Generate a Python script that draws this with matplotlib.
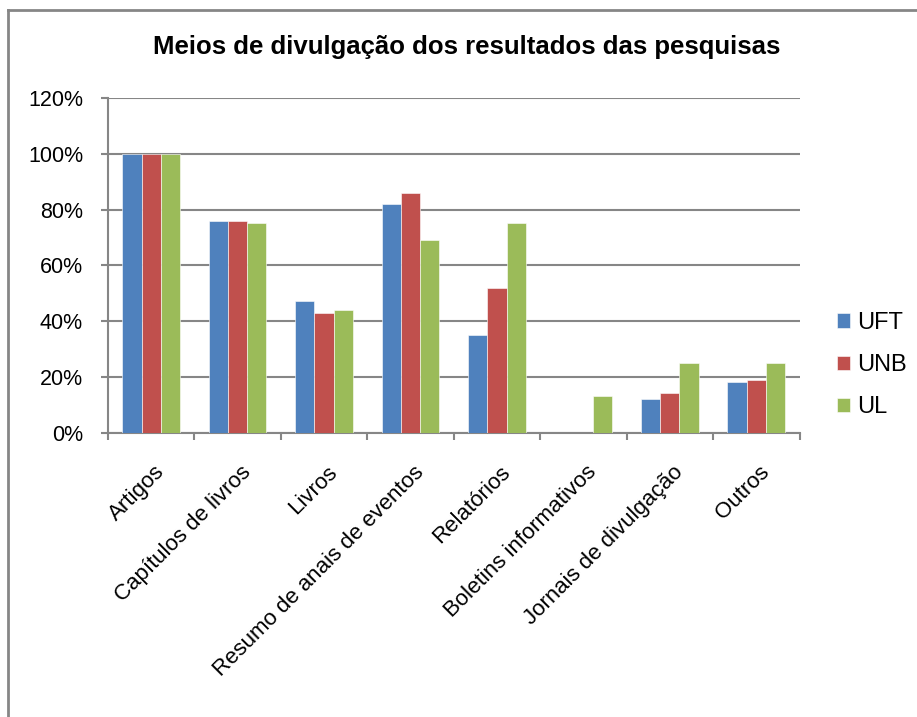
import matplotlib
matplotlib.use("Agg")
import matplotlib.pyplot as plt
import matplotlib.transforms as mtransforms
from matplotlib.lines import Line2D
import numpy as np

# dados (%)
categorias = ["Artigos", "Capítulos de livros", "Livros", "Resumo de anais de eventos",
              "Relatórios", "Boletins informativos", "Jornais de divulgação", "Outros"]
uft = [100, 76, 47, 82, 35, 0, 12, 18]
unb = [100, 76, 43, 86, 52, 0, 14, 19]
ul = [100, 75, 44, 69, 75, 13, 25, 25]
series = ["UFT", "UNB", "UL"]
cores = ["#4F81BD", "#C0504D", "#9BBB59"]
yticks = [0, 20, 40, 60, 80, 100, 120]

plt.rcParams['font.family'] = ['Liberation Sans', 'DejaVu Sans']
grey = "#868686"

fig = plt.figure(figsize=(9.17, 7.17), dpi=100)
W, H = 917, 717
ax = fig.add_axes([108 / W, 1 - 432.5 / H, (799.5 - 108) / W, (432.5 - 98) / H])

# moldura do gráfico (canto superior esquerdo)
fig.add_artist(Line2D([8 / W, 8 / W], [0, 1 - 10 / H], color=grey, lw=2, transform=fig.transFigure))
fig.add_artist(Line2D([8 / W, 1], [1 - 10 / H, 1 - 10 / H], color=grey, lw=2, transform=fig.transFigure))

x = np.arange(len(categorias))
w = 0.222
for i, (vals, nome, cor) in enumerate(zip([uft, unb, ul], series, cores)):
    ax.bar(x + (i - 1) * w, vals, width=w, color=cor, label=nome,
           edgecolor="white", linewidth=0.4, zorder=3)

ax.set_xlim(-0.5, len(categorias) - 0.5)
ax.set_ylim(0, 120)
ax.set_yticks(yticks)
ax.set_yticklabels([f"{v}%" for v in yticks], fontsize=15.5)
ax.grid(axis="y", color=grey, lw=1.5, zorder=0)

for s in ["top", "right"]:
    ax.spines[s].set_visible(False)
for s in ["left", "bottom"]:
    ax.spines[s].set_color(grey)
    ax.spines[s].set_linewidth(1.5)

ax.tick_params(axis="y", length=5, width=1.5, color=grey, pad=13)
ax.set_xticks(np.arange(-0.5, len(categorias), 1.0), minor=True)
ax.tick_params(axis="x", which="minor", length=5, width=1.5, color=grey)
ax.set_xticks(x)
ax.set_xticklabels(categorias, fontsize=16, rotation=45, ha="right", va="top",
                   rotation_mode="anchor")
ax.tick_params(axis="x", which="major", length=0, pad=21)
offset = mtransforms.ScaledTranslation(3 / 100, 0, fig.dpi_scale_trans)
for lab in ax.get_xticklabels():
    lab.set_transform(lab.get_transform() + offset)

fig.text(467 / W, 1 - 47 / H, "Meios de divulgação dos resultados das pesquisas",
         ha="center", va="center", fontsize=18.5, fontweight="bold")

leg = fig.legend(loc="center left", bbox_to_anchor=(837 / W, 1 - 365 / H),
                 frameon=False, handlelength=0.55, handleheight=0.55,
                 handletextpad=0.3, labelspacing=0.85, borderpad=0, borderaxespad=0,
                 prop={'size': 17})

fig.savefig("out.png", dpi=100)
